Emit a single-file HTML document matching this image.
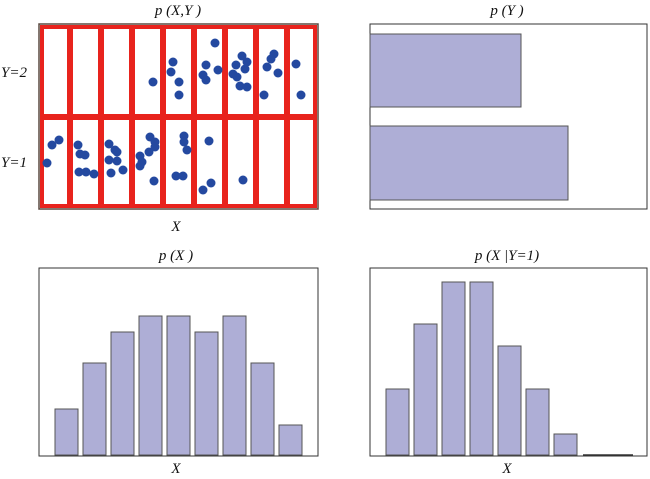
<!DOCTYPE html>
<html><head><style>
html,body{margin:0;padding:0;background:#fff;}
svg{display:block;}
text{font-family:"Liberation Serif","Times New Roman",serif;font-style:italic;font-size:15px;fill:#111;}
</style></head><body>
<svg width="650" height="479" viewBox="0 0 650 479" xmlns="http://www.w3.org/2000/svg" font-family="Liberation Serif, serif">
<!-- Top-left -->
<text x="178" y="15" text-anchor="middle">p (X,Y )</text>
<rect x="39" y="24" width="279" height="185" fill="#fff" stroke="#5a4a40" stroke-width="1.5"/>
<g fill="#e8231d">
<rect x="40" y="25" width="277" height="4"/><rect x="40" y="204" width="277" height="4"/>
<rect x="40" y="25" width="4" height="183"/><rect x="313" y="25" width="4" height="183"/>
<rect x="40" y="114" width="277" height="6"/>
<rect x="67" y="25" width="6" height="183"/><rect x="98" y="25" width="6" height="183"/>
<rect x="129" y="25" width="6" height="183"/><rect x="160" y="25" width="6" height="183"/>
<rect x="191" y="25" width="6" height="183"/><rect x="222" y="25" width="6" height="183"/>
<rect x="253" y="25" width="6" height="183"/><rect x="284" y="25" width="6" height="183"/>
</g>
<g fill="#2449a0">
<circle cx="153" cy="82" r="4.5"/><circle cx="173" cy="62" r="4.5"/><circle cx="171" cy="72" r="4.5"/><circle cx="179" cy="82" r="4.5"/><circle cx="179" cy="95" r="4.5"/>
<circle cx="215" cy="43" r="4.5"/><circle cx="206" cy="65" r="4.5"/><circle cx="203" cy="75" r="4.5"/><circle cx="206" cy="80" r="4.5"/><circle cx="218" cy="70" r="4.5"/>
<circle cx="242" cy="56" r="4.5"/><circle cx="247" cy="62" r="4.5"/><circle cx="236" cy="65" r="4.5"/><circle cx="245" cy="69" r="4.5"/><circle cx="233" cy="74" r="4.5"/><circle cx="237" cy="77" r="4.5"/><circle cx="240" cy="86" r="4.5"/><circle cx="247" cy="87" r="4.5"/>
<circle cx="274" cy="54" r="4.5"/><circle cx="271" cy="59" r="4.5"/><circle cx="267" cy="67" r="4.5"/><circle cx="278" cy="73" r="4.5"/><circle cx="264" cy="95" r="4.5"/><circle cx="296" cy="64" r="4.5"/><circle cx="301" cy="95" r="4.5"/>
<circle cx="47" cy="163" r="4.5"/><circle cx="52" cy="145" r="4.5"/><circle cx="59" cy="140" r="4.5"/><circle cx="78" cy="145" r="4.5"/><circle cx="80" cy="154" r="4.5"/><circle cx="85" cy="155" r="4.5"/><circle cx="79" cy="172" r="4.5"/><circle cx="86" cy="172" r="4.5"/><circle cx="94" cy="174" r="4.5"/>
<circle cx="109" cy="144" r="4.5"/><circle cx="115" cy="150" r="4.5"/><circle cx="117" cy="152" r="4.5"/><circle cx="109" cy="160" r="4.5"/><circle cx="117" cy="161" r="4.5"/><circle cx="111" cy="173" r="4.5"/><circle cx="123" cy="170" r="4.5"/>
<circle cx="150" cy="137" r="4.5"/><circle cx="155" cy="142" r="4.5"/><circle cx="155" cy="147" r="4.5"/><circle cx="149" cy="152" r="4.5"/><circle cx="140" cy="156" r="4.5"/><circle cx="142" cy="162" r="4.5"/><circle cx="140" cy="166" r="4.5"/><circle cx="154" cy="181" r="4.5"/>
<circle cx="184" cy="136" r="4.5"/><circle cx="184" cy="142" r="4.5"/><circle cx="187" cy="150" r="4.5"/><circle cx="176" cy="176" r="4.5"/><circle cx="183" cy="176" r="4.5"/>
<circle cx="209" cy="141" r="4.5"/><circle cx="211" cy="183" r="4.5"/><circle cx="203" cy="190" r="4.5"/><circle cx="243" cy="180" r="4.5"/>
</g>
<text x="1" y="77">Y=2</text>
<text x="1" y="167">Y=1</text>
<text x="176" y="231" text-anchor="middle">X</text>

<!-- Top-right -->
<text x="507" y="15" text-anchor="middle">p (Y )</text>
<rect x="370" y="24" width="277" height="185" fill="#fff" stroke="#333" stroke-width="1"/>
<g fill="#aeaed6" stroke="#555" stroke-width="1">
<rect x="370" y="34" width="151" height="73"/>
<rect x="370" y="126" width="198" height="74"/>
</g>

<!-- Bottom-left -->
<text x="176" y="260" text-anchor="middle">p (X )</text>
<rect x="39" y="268" width="279" height="188" fill="#fff" stroke="#333" stroke-width="1"/>
<g fill="#aeaed6" stroke="#555" stroke-width="1">
<rect x="55" y="409" width="23" height="46"/>
<rect x="83" y="363" width="23" height="92"/>
<rect x="111" y="332" width="23" height="123"/>
<rect x="139" y="316" width="23" height="139"/>
<rect x="167" y="316" width="23" height="139"/>
<rect x="195" y="332" width="23" height="123"/>
<rect x="223" y="316" width="23" height="139"/>
<rect x="251" y="363" width="23" height="92"/>
<rect x="279" y="425" width="23" height="30"/>
</g>
<text x="176" y="473" text-anchor="middle">X</text>

<!-- Bottom-right -->
<text x="507" y="260" text-anchor="middle">p (X |Y=1)</text>
<rect x="370" y="268" width="277" height="188" fill="#fff" stroke="#333" stroke-width="1"/>
<g fill="#aeaed6" stroke="#555" stroke-width="1">
<rect x="386" y="389" width="23" height="66"/>
<rect x="414" y="324" width="23" height="131"/>
<rect x="442" y="282" width="23" height="173"/>
<rect x="470" y="282" width="23" height="173"/>
<rect x="498" y="346" width="23" height="109"/>
<rect x="526" y="389" width="23" height="66"/>
<rect x="554" y="434" width="23" height="21"/>
</g>
<line x1="583" y1="455" x2="633" y2="455" stroke="#333" stroke-width="1.5"/>
<text x="507" y="473" text-anchor="middle">X</text>
</svg>
</body></html>
